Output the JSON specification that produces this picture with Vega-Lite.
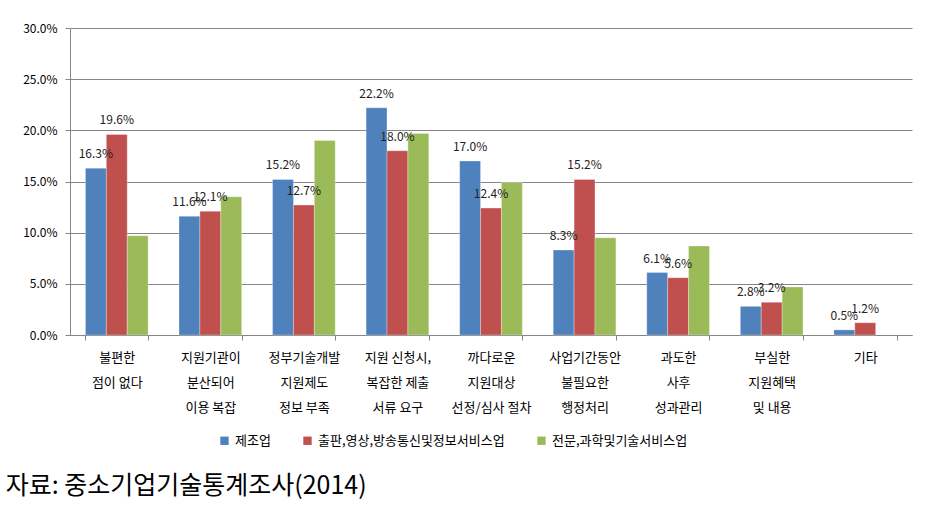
{
  "$schema": "https://vega.github.io/schema/vega-lite/v6.json",
  "autosize": "none",
  "width": 842,
  "height": 307,
  "padding": {"left": 70, "top": 28, "right": 30, "bottom": 172},
  "background": "white",
  "data": {
    "values": [
      {"category": "불편한|점이 없다", "series": "제조업", "value": 0.163},
      {"category": "불편한|점이 없다", "series": "출판,영상,방송통신및정보서비스업", "value": 0.196},
      {"category": "불편한|점이 없다", "series": "전문,과학및기술서비스업", "value": 0.097},
      {"category": "지원기관이|분산되어|이용 복잡", "series": "제조업", "value": 0.116},
      {"category": "지원기관이|분산되어|이용 복잡", "series": "출판,영상,방송통신및정보서비스업", "value": 0.121},
      {"category": "지원기관이|분산되어|이용 복잡", "series": "전문,과학및기술서비스업", "value": 0.135},
      {"category": "정부기술개발|지원제도|정보 부족", "series": "제조업", "value": 0.152},
      {"category": "정부기술개발|지원제도|정보 부족", "series": "출판,영상,방송통신및정보서비스업", "value": 0.127},
      {"category": "정부기술개발|지원제도|정보 부족", "series": "전문,과학및기술서비스업", "value": 0.190},
      {"category": "지원 신청시,|복잡한 제출|서류 요구", "series": "제조업", "value": 0.222},
      {"category": "지원 신청시,|복잡한 제출|서류 요구", "series": "출판,영상,방송통신및정보서비스업", "value": 0.180},
      {"category": "지원 신청시,|복잡한 제출|서류 요구", "series": "전문,과학및기술서비스업", "value": 0.197},
      {"category": "까다로운|지원대상|선정/심사 절차", "series": "제조업", "value": 0.170},
      {"category": "까다로운|지원대상|선정/심사 절차", "series": "출판,영상,방송통신및정보서비스업", "value": 0.124},
      {"category": "까다로운|지원대상|선정/심사 절차", "series": "전문,과학및기술서비스업", "value": 0.149},
      {"category": "사업기간동안|불필요한|행정처리", "series": "제조업", "value": 0.083},
      {"category": "사업기간동안|불필요한|행정처리", "series": "출판,영상,방송통신및정보서비스업", "value": 0.152},
      {"category": "사업기간동안|불필요한|행정처리", "series": "전문,과학및기술서비스업", "value": 0.095},
      {"category": "과도한|사후|성과관리", "series": "제조업", "value": 0.061},
      {"category": "과도한|사후|성과관리", "series": "출판,영상,방송통신및정보서비스업", "value": 0.056},
      {"category": "과도한|사후|성과관리", "series": "전문,과학및기술서비스업", "value": 0.087},
      {"category": "부실한|지원혜택|및 내용", "series": "제조업", "value": 0.028},
      {"category": "부실한|지원혜택|및 내용", "series": "출판,영상,방송통신및정보서비스업", "value": 0.032},
      {"category": "부실한|지원혜택|및 내용", "series": "전문,과학및기술서비스업", "value": 0.047},
      {"category": "기타", "series": "제조업", "value": 0.005},
      {"category": "기타", "series": "출판,영상,방송통신및정보서비스업", "value": 0.012}
    ]
  },
  "title": {
    "text": "자료:  중소기업기술통계조사(2014)",
    "orient": "bottom",
    "anchor": "start",
    "frame": "bounds",
    "font": "Noto Sans CJK KR",
    "fontSize": 25,
    "fontWeight": "normal",
    "color": "#000000",
    "offset": 26,
    "dx": -17
  },
  "encoding": {
    "x": {
      "field": "category",
      "type": "nominal",
      "sort": null,
      "scale": {"paddingInner": 0.33, "paddingOuter": 0.165},
      "axis": {
        "title": null,
        "labelAngle": 0,
        "labelExpr": "split(datum.label, '|')",
        "labelFont": "Noto Sans CJK KR",
        "labelFontSize": 13,
        "labelColor": "#000000",
        "labelLineHeight": 25,
        "labelPadding": 11,
        "tickBand": "extent",
        "tickSize": 5,
        "tickColor": "#868686",
        "domainColor": "#868686",
        "grid": false
      }
    },
    "xOffset": {
      "field": "series",
      "type": "nominal",
      "sort": ["제조업", "출판,영상,방송통신및정보서비스업", "전문,과학및기술서비스업"],
      "scale": {"paddingInner": 0, "paddingOuter": 0}
    },
    "y": {
      "field": "value",
      "type": "quantitative",
      "scale": {"domain": [0, 0.3]},
      "axis": {
        "title": null,
        "values": [0, 0.05, 0.1, 0.15, 0.2, 0.25, 0.3],
        "format": ".1%",
        "labelFont": "Noto Sans CJK KR",
        "labelFontSize": 12,
        "labelColor": "#000000",
        "tickSize": 5,
        "tickColor": "#868686",
        "domainColor": "#868686",
        "gridColor": "#868686",
        "labelPadding": 8
      }
    }
  },
  "layer": [
    {
      "mark": {"type": "bar", "stroke": "white", "strokeWidth": 0.5, "strokeOpacity": 0.6},
      "encoding": {
        "color": {
          "field": "series",
          "type": "nominal",
          "sort": ["제조업", "출판,영상,방송통신및정보서비스업", "전문,과학및기술서비스업"],
          "scale": {"range": ["#4F81BD", "#C0504D", "#9BBB59"]},
          "legend": {
            "title": null,
            "orient": "none",
            "legendX": 148,
            "legendY": 406,
            "direction": "horizontal",
            "symbolType": "square",
            "symbolSize": 70,
            "symbolStrokeWidth": 0,
            "labelFont": "Noto Sans CJK KR",
            "labelFontSize": 13,
            "labelColor": "#000000",
            "labelLimit": 0,
            "columnPadding": 30
          }
        }
      }
    },
    {
      "transform": [{"filter": "datum.series != '전문,과학및기술서비스업'"}],
      "mark": {"type": "text", "baseline": "middle", "dy": -14, "font": "Noto Sans CJK KR", "fontSize": 12, "color": "#222222"},
      "encoding": {
        "text": {"field": "value", "type": "quantitative", "format": ".1%"}
      }
    }
  ],
  "config": {"view": {"stroke": null}}
}
